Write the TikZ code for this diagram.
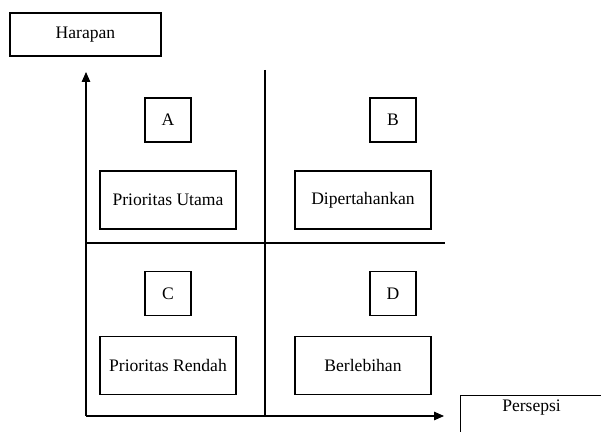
\documentclass[tikz,border=0pt]{standalone}
\usepackage{fontspec}
\setmainfont{Liberation Serif}
\usetikzlibrary{arrows.meta}

\begin{document}
\begin{tikzpicture}[x=0.025cm,y=-0.025cm,line width=0.8pt,
    font=\fontsize{12.5}{15}\selectfont,
    labelbox/.style={draw,minimum width=3.4cm,minimum height=1.45cm},
    letterbox/.style={draw,minimum width=1.15cm,minimum height=1.1cm},
    axisbox/.style={draw,minimum width=3.775cm,minimum height=1.075cm},
    axisarrow/.style={-{Triangle[length=7pt,width=6pt]}}]
      \useasboundingbox (0,0) rectangle (601,432);

      % Axis labels
      \node[axisbox] (harapan) at (85.5,34.5) {Harapan};
      \node[draw,anchor=north west,minimum width=3.55cm,text depth=1cm] (persepsi) at (460,395) {Persepsi};

      % Axes
      \coordinate (origin) at (86,416);
      \coordinate (ytip) at (86,72);
      \coordinate (xtip) at (444,416);
      \draw[axisarrow] (origin) -- (ytip);
      \draw[axisarrow] (origin) -- (xtip);

      % Quadrant dividers
      \coordinate (vtop) at (265,70);
      \coordinate (vbot) at (265,416);
      \coordinate (hleft) at (86,243);
      \coordinate (hright) at (445,243);
      \draw (vtop) -- (vbot);
      \draw (hleft) -- (hright);

      % Quadrant letters
      \node[letterbox] (qa) at (168,120) {A};
      \node[letterbox] (qb) at (393,120) {B};
      \node[letterbox] (qc) at (168,293.5) {C};
      \node[letterbox] (qd) at (393,293.5) {D};

      % Quadrant names
      \node[labelbox] (utama) at (168,200) {Prioritas Utama};
      \node[labelbox] (tahan) at (363,200) {Dipertahankan};
      \node[labelbox] (rendah) at (168,365.5) {Prioritas Rendah};
      \node[labelbox] (lebih) at (363,365.5) {Berlebihan};
\end{tikzpicture}
\end{document}
